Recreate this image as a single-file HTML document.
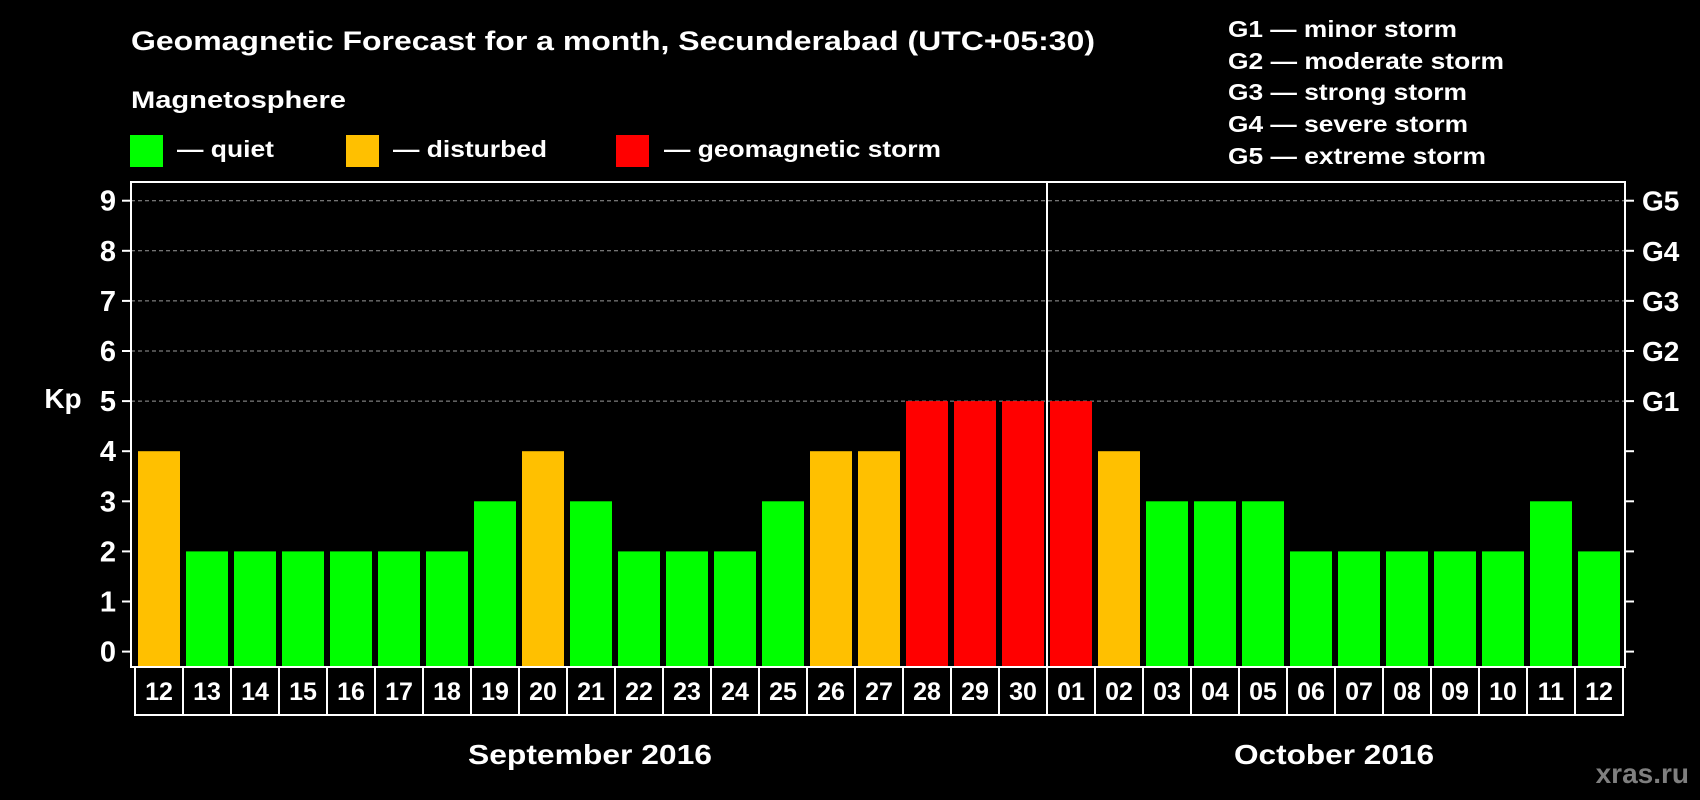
<!DOCTYPE html>
<html><head><meta charset="utf-8"><style>
html,body{margin:0;padding:0;background:#000;width:1700px;height:800px;overflow:hidden}
svg{display:block}
text{font-family:"Liberation Sans",Arial,sans-serif;font-weight:bold;fill:#fff}
</style></head><body>
<svg id="chart" width="1700" height="800" viewBox="0 0 1700 800" xmlns="http://www.w3.org/2000/svg">
<rect x="0" y="0" width="1700" height="800" fill="#000"/>
<text x="131" y="50" font-size="27" textLength="964" lengthAdjust="spacingAndGlyphs">Geomagnetic Forecast for a month, Secunderabad (UTC+05:30)</text>
<text x="131" y="108" font-size="24" textLength="215" lengthAdjust="spacingAndGlyphs">Magnetosphere</text>
<g>
<rect x="130" y="135" width="33" height="32" fill="#00ff00"/>
<text x="177" y="157" font-size="23" textLength="97" lengthAdjust="spacingAndGlyphs">— quiet</text></g>
<g>
<rect x="346" y="135" width="33" height="32" fill="#ffc000"/>
<text x="393" y="157" font-size="23" textLength="154" lengthAdjust="spacingAndGlyphs">— disturbed</text></g>
<g>
<rect x="616" y="135" width="33" height="32" fill="#ff0000"/>
<text x="664" y="157" font-size="23" textLength="277" lengthAdjust="spacingAndGlyphs">— geomagnetic storm</text></g>
<g>
<text x="1228" y="37" font-size="23" textLength="229" lengthAdjust="spacingAndGlyphs">G1 — minor storm</text>
<text x="1228" y="69" font-size="23" textLength="276" lengthAdjust="spacingAndGlyphs">G2 — moderate storm</text>
<text x="1228" y="100" font-size="23" textLength="239" lengthAdjust="spacingAndGlyphs">G3 — strong storm</text>
<text x="1228" y="132" font-size="23" textLength="240" lengthAdjust="spacingAndGlyphs">G4 — severe storm</text>
<text x="1228" y="164" font-size="23" textLength="258" lengthAdjust="spacingAndGlyphs">G5 — extreme storm</text>
</g>
<text x="63" y="408" font-size="28" text-anchor="middle">Kp</text>
<text x="468" y="764" font-size="28" textLength="244" lengthAdjust="spacingAndGlyphs">September 2016</text>
<text x="1234" y="764" font-size="28" textLength="200" lengthAdjust="spacingAndGlyphs">October 2016</text>
<text x="1689" y="783" font-size="28" text-anchor="end" style="fill:#7f7f7f">xras.ru</text>
<g id="plot"></g>
</svg>
<script>
const days = ["12","13","14","15","16","17","18","19","20","21","22","23","24","25","26","27","28","29","30","01","02","03","04","05","06","07","08","09","10","11","12"];
const kpValues = [4,2,2,2,2,2,2,3,4,3,2,2,2,3,4,4,5,5,5,5,4,3,3,3,2,2,2,2,2,3,2];
const yTicks = [0,1,2,3,4,5,6,7,8,9];
const gLabels = ["G1","G2","G3","G4","G5"];
const gLevels = [5,6,7,8,9];
const monthBreakIndex = 19;

const NS="http://www.w3.org/2000/svg";
const plot=document.getElementById('plot');
const L=131,R=1625,T=182,B=667,cellX0=135,cellW=48,cellH=48;
function y(v){return 651.6-v*50.1;}
function x(i){return cellX0+i*cellW;}
function mk(tag,attrs){const e=document.createElementNS(NS,tag);for(const k in attrs)e.setAttribute(k,attrs[k]);plot.appendChild(e);return e;}
function color(v){return v>=5?"#ff0000":(v>=4?"#ffc000":"#00ff00");}

gLevels.forEach((v)=>{
  const g=mk('line',{x1:L,x2:R,y1:y(v),y2:y(v),stroke:"#9a9a9a","stroke-width":1,"stroke-dasharray":"4,3"});
  
  
});
kpValues.forEach((v,i)=>{
  const r=mk('rect',{x:x(i)+3,y:y(v),width:42,height:B-y(v),fill:color(v)});
  
  
});
const fr=mk('rect',{x:L,y:T,width:R-L,height:B-T,fill:"none",stroke:"#fff","stroke-width":2});


const md=mk('line',{x1:x(monthBreakIndex),x2:x(monthBreakIndex),y1:T,y2:B+cellH,stroke:"#fff","stroke-width":2});


yTicks.forEach((v)=>{
  const t=mk('line',{x1:122,x2:L,y1:y(v),y2:y(v),stroke:"#fff","stroke-width":2});
  
  
  const t2=mk('line',{x1:R,x2:1634,y1:y(v),y2:y(v),stroke:"#fff","stroke-width":2});
  
  
  const lb=mk('text',{x:116,y:y(v)+10,"font-size":29,"text-anchor":"end"});
  lb.textContent=String(v);
  
  
});
gLevels.forEach((v,i)=>{
  const lb=mk('text',{x:1642,y:y(v)+10,"font-size":28});
  lb.textContent=gLabels[i];
  
  
});
days.forEach((d,i)=>{
  const c=mk('rect',{x:x(i),y:B,width:cellW,height:cellH,fill:"none",stroke:"#fff","stroke-width":2});
  
  
  const t=mk('text',{x:x(i)+cellW/2,y:B+33,"font-size":25,"text-anchor":"middle"});
  t.textContent=d;
  
  
});
</script>
</body></html>
